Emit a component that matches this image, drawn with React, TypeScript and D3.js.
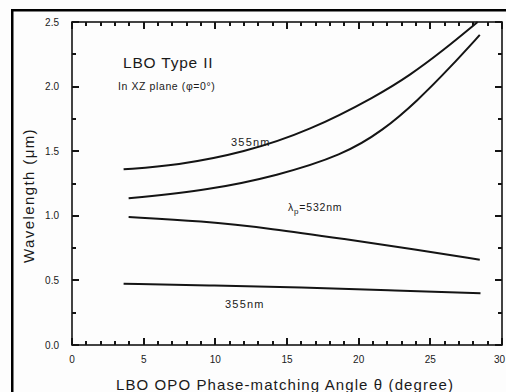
import * as d3 from "d3";

// curves: phase-matching angle (deg) -> wavelength (um)
const signal355Angle = [3.6, 7.3, 12, 16.6, 21.3, 23.6, 25.9, 28.3];
const signal355Wl = [1.36, 1.39, 1.49, 1.66, 1.93, 2.09, 2.28, 2.5];
const signal532Angle = [3.95, 9.6, 14.3, 18.9, 21.7, 24.1, 26.4, 28.45];
const signal532Wl = [1.135, 1.2, 1.31, 1.47, 1.66, 1.89, 2.15, 2.4];
const idler532Angle = [3.95, 9, 14, 19, 24, 28.45];
const idler532Wl = [0.99, 0.96, 0.9, 0.82, 0.74, 0.66];
const idler355Angle = [3.6, 10, 16, 22, 28.5];
const idler355Wl = [0.475, 0.46, 0.445, 0.425, 0.4];

const xMajorTicks = [0, 5, 10, 15, 20, 25, 30];
const xMinorTicks = d3.range(0, 31, 1);
const yMajorTicks = [0, 0.5, 1, 1.5, 2, 2.5];
const yMinorTicks = d3.range(0, 2.51, 0.25);

const width = 506;
const height = 392;
const marginLeft = 72;
const marginRight = 4;
const marginTop = 22;
const marginBottom = 47;

const font = "'Liberation Sans', Arial, Helvetica, sans-serif";
const ink = "#141414";

export default function App() {
  const x = d3
    .scaleLinear()
    .domain([0, 30])
    .range([marginLeft, width - marginRight]);

  const y = d3
    .scaleLinear()
    .domain([0, 2.5])
    .range([height - marginBottom, marginTop]);

  const line = d3
    .line<[number, number]>()
    .x((d) => x(d[0]))
    .y((d) => y(d[1]))
    .curve(d3.curveBasis);

  const curves: [number, number][][] = [
    signal355Angle.map((a, i) => [a, signal355Wl[i]]),
    signal532Angle.map((a, i) => [a, signal532Wl[i]]),
    idler532Angle.map((a, i) => [a, idler532Wl[i]]),
    idler355Angle.map((a, i) => [a, idler355Wl[i]]),
  ];

  const [x0, x1] = x.range();
  const [y0, y1] = y.range();

  return (
    <svg
      width={width}
      height={height}
      style={{ position: "absolute", left: 0, top: 0, background: "#fff" }}
    >
      <rect width={width} height={height} fill="#fdfdfd" />
      {/* scan frame */}
      <rect x={11} y={9} width={width - 11} height={2.5} fill="#000" />
      <rect x={11} y={9} width={2.5} height={height - 9} fill="#000" />

      {/* plot box */}
      <rect
        x={x0}
        y={y1}
        width={x1 - x0}
        height={y0 - y1}
        fill="none"
        stroke={ink}
        strokeWidth={1.6}
      />

      {/* inward tick marks, minor ones shorter */}
      <g fill={ink}>
        {xMinorTicks.map((t) => {
          const len = t % 5 === 0 ? 7 : 4;
          const px = Math.round(x(t)) - 1;
          return (
            <g key={"x" + t}>
              <rect x={px} y={y0 - len} width={2} height={len} />
              <rect x={px} y={y1} width={2} height={len} />
            </g>
          );
        })}
        {yMinorTicks.map((t, i) => {
          const len = i % 2 === 0 ? 7 : 4;
          const py = Math.round(y(t)) - 1;
          return (
            <g key={"y" + t}>
              <rect x={x0} y={py} width={len} height={2} />
              <rect x={x1 - len} y={py} width={len} height={2} />
            </g>
          );
        })}
      </g>

      {curves.map((c, i) => (
        <path key={i} d={line(c) || ""} fill="none" stroke={ink} strokeWidth={2} />
      ))}

      <g fontFamily={font} fill="#1a1a1a" fontSize={10}>
        {xMajorTicks.map((t) => (
          <text
            key={"xl" + t}
            x={t === 30 ? width - 1 : x(t)}
            y={y0 + 18}
            textAnchor={t === 30 ? "end" : "middle"}
          >
            {t}
          </text>
        ))}
        {yMajorTicks.map((t) => (
          <text key={"yl" + t} x={x0 - 13} y={y(t) + 3.5} textAnchor="end">
            {d3.format(".1f")(t)}
          </text>
        ))}
      </g>

      <g fontFamily={font} fill="#1a1a1a">
        <text x={123} y={68} fontSize={15.5} letterSpacing={0.8} fontWeight={500}>
          LBO Type II
        </text>
        <text x={118} y={90} fontSize={10.5} letterSpacing={0.6}>
          In XZ plane (φ=0°)
        </text>
        <text x={231} y={146} fontSize={11} letterSpacing={1.2}>
          355nm
        </text>
        <text x={288} y={211} fontSize={10.5} letterSpacing={0.8}>
          λ<tspan fontSize={8} dy={3}>p</tspan>
          <tspan dy={-3}>=532nm</tspan>
        </text>
        <text x={225} y={308} fontSize={11} letterSpacing={1.2}>
          355nm
        </text>
        <text
          x={(115 + 455) / 2}
          y={390}
          fontSize={15}
          letterSpacing={1.1}
          textAnchor="middle"
        >
          LBO OPO Phase-matching Angle θ (degree)
        </text>
        <text
          transform={`translate(34,${(128 + 263) / 2}) rotate(-90)`}
          fontSize={15}
          letterSpacing={1.4}
          textAnchor="middle"
        >
          Wavelength (μm)
        </text>
      </g>
    </svg>
  );
}
